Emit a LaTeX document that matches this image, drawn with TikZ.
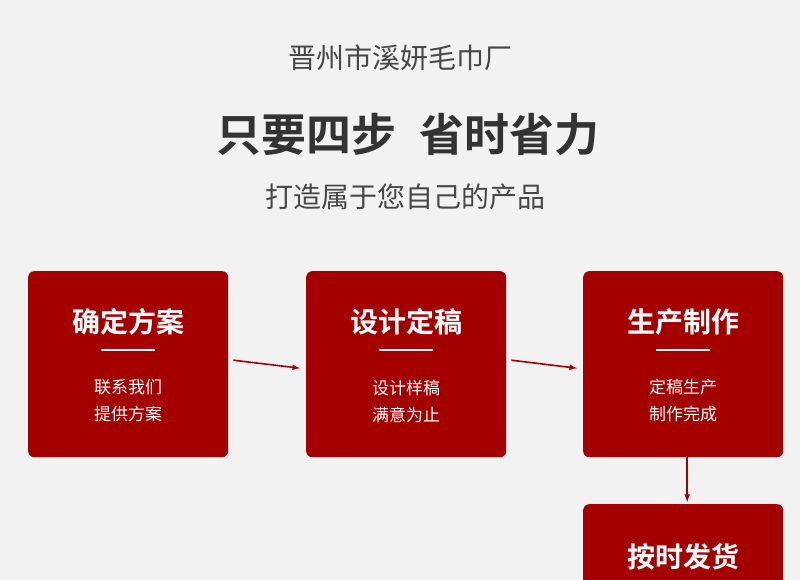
\documentclass[tikz,border=0pt]{standalone}
\usepackage{fontspec}
\setmainfont{Noto Sans CJK SC}[BoldFont={Noto Sans CJK SC Bold}]
\begin{document}
\begin{tikzpicture}[x=1pt,y=-1pt,
  box/.style={fill=boxred,rounded corners=6pt,minimum width=200pt,minimum height=186pt,anchor=north west,inner sep=0pt},
  btitle/.style={text=white,font=\bfseries\fontsize{28}{32}\selectfont},
  bsub/.style={text=white,font=\fontsize{17}{27}\selectfont,align=center},
  arr/.style={draw=boxred,line width=1.6pt,-{latex}}]
\definecolor{boxred}{HTML}{A50000}
\definecolor{bg}{HTML}{F2F2F2}
\definecolor{txt}{HTML}{333333}
\fill[bg] (0,0) rectangle (800,580);
\useasboundingbox (0,0) rectangle (800,580);
\node[text=txt!90,font=\fontsize{28}{32}\selectfont] (t1) at (400,58) {晋州市溪妍毛巾厂};
\node[text=txt,font=\bfseries\fontsize{45}{50}\selectfont] (t2) at (408,135) {只要四步\hspace{0.5em}省时省力};
\node[text=txt!90,font=\fontsize{28}{32}\selectfont] (t3) at (405,197) {打造属于您自己的产品};
\begin{scope}
\clip (0,0) rectangle (800,580);
\node[box] (b1) at (28,271) {};
\node[box] (b2) at (306,271) {};
\node[box] (b3) at (583,271) {};
\node[box] (b4) at (583,504) {};
\end{scope}
\foreach \b/\t/\s in {b1/确定方案/{联系我们\\提供方案}, b2/设计定稿/{设计样稿\\满意为止}, b3/生产制作/{定稿生产\\制作完成}}{
  \node[btitle] (\b t) at ([yshift=-51pt]\b.north) {\t};
  \draw[white,line width=2pt] ([xshift=-27pt,yshift=-79pt]\b.north) -- ([xshift=27pt,yshift=-79pt]\b.north);
  \node[bsub] (\b s) at ([yshift=-130pt]\b.north) {\s};
}
\node[btitle] (b4t) at ([yshift=-53pt]b4.north) {按时发货};
\draw[arr] (b1.east)+(5,-4) -- ([xshift=-6pt,yshift=-4pt]b2.west);
\draw[arr] (b2.east)+(5,-4) -- ([xshift=-6pt,yshift=-4pt]b3.west);
\draw[arr] (b3.south)+(4,0) -- ([xshift=4pt,yshift=2pt]b4.north);
\end{tikzpicture}
\end{document}
